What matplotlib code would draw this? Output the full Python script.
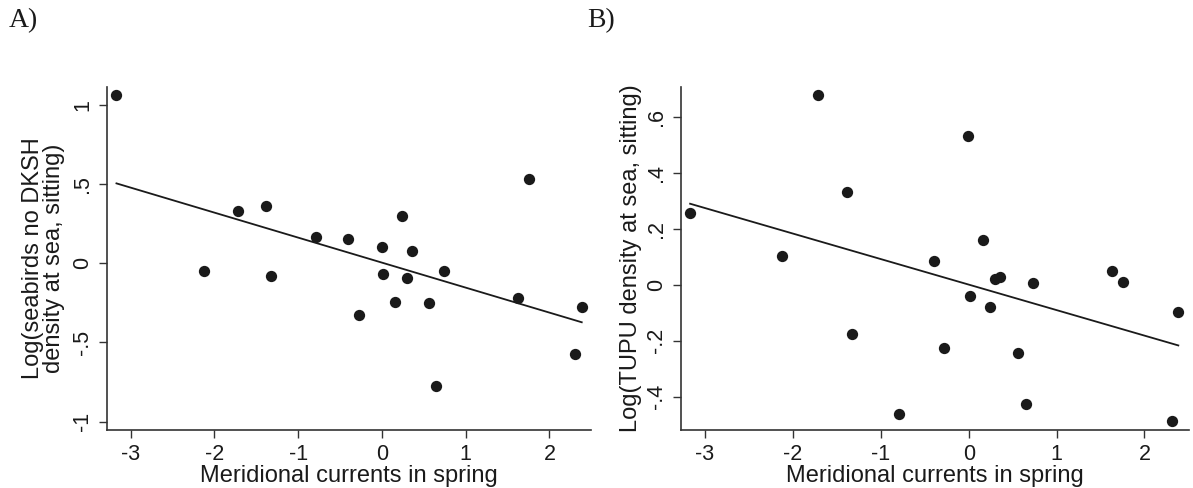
import numpy as np
import matplotlib
matplotlib.use("Agg")
import matplotlib.pyplot as plt

# meridional currents in spring (shared predictor)
currents = [-3.17, -2.12, -1.72, -1.38, -1.33, -0.79, -0.40, -0.28, -0.005, 0.01,
            0.16, 0.245, 0.295, 0.36, 0.563, 0.65, 0.735, 1.625, 1.755, 2.31, 2.385]

# A) log seabirds (no DKSH) density at sea, sitting
seabirds = [1.063, -0.048, 0.331, 0.362, -0.078, 0.168, 0.152, -0.326, 0.105, -0.065,
            -0.242, 0.299, -0.093, 0.078, -0.248, -0.773, -0.046, -0.219, 0.535, -0.571, -0.278]

# B) log TUPU density at sea, sitting
tupu = [0.259, 0.103, 0.679, 0.333, -0.175, -0.462, 0.085, -0.224, 0.533, -0.039,
        0.161, -0.078, 0.020, 0.030, -0.242, -0.425, 0.006, 0.051, 0.010, -0.487, -0.098]

xticks = [-3, -2, -1, 0, 1, 2]
yticks_a = [-1, -0.5, 0, 0.5, 1]
ylabels_a = ["-1", "-.5", "0", ".5", "1"]
yticks_b = [-0.4, -0.2, 0, 0.2, 0.4, 0.6]
ylabels_b = ["-.4", "-.2", "0", ".2", ".4", ".6"]

plt.rcParams['font.family'] = ['Liberation Sans', 'DejaVu Sans']
ink = "#1a1a1a"
grey = "#333333"

fig = plt.figure(figsize=(11.93, 4.88), dpi=100)
ax_a = fig.add_axes([0.0899, 0.1189, 0.4058, 0.7035])
ax_b = fig.add_axes([0.5711, 0.1189, 0.4258, 0.7035])


def panel(ax, x, y, yticks, ylabels, ylabel, xlim, ylim, ylab_pad):
    x = np.array(x)
    y = np.array(y)
    ax.scatter(x, y, s=66, color=ink, zorder=3, linewidths=0)
    # linear fit, drawn over the observed range
    b, a = np.polyfit(x, y, 1)
    xs = np.array([x.min(), x.max()])
    ax.plot(xs, a + b * xs, color=ink, lw=1.3, zorder=2)
    ax.set_xlim(*xlim)
    ax.set_ylim(*ylim)
    ax.set_xticks(xticks)
    ax.set_xticklabels([str(t) for t in xticks])
    ax.set_yticks(yticks)
    ax.set_yticklabels(ylabels, rotation=90, va="center")
    for s in ["top", "right"]:
        ax.spines[s].set_visible(False)
    for s in ["left", "bottom"]:
        ax.spines[s].set_color(grey)
        ax.spines[s].set_linewidth(1.2)
    ax.tick_params(direction="out", length=6, width=1, color=grey,
                   labelsize=15.5, labelcolor=ink, pad=4)
    ax.set_xlabel("Meridional currents in spring", fontsize=17, color=ink, labelpad=0)
    ax.set_ylabel(ylabel, fontsize=17, color=ink, labelpad=ylab_pad, linespacing=0.95)


panel(ax_a, currents, seabirds, yticks_a, ylabels_a,
      "Log(seabirds no DKSH\ndensity at sea, sitting)", (-3.28, 2.50), (-1.053, 1.116), 5)
panel(ax_b, currents, tupu, yticks_b, ylabels_b,
      "Log(TUPU density at sea, sitting)", (-3.27, 2.51), (-0.519, 0.71), 3)

fig.text(9 / 1193, 1 - 8 / 488, "A)", family=['Liberation Serif', 'DejaVu Serif'],
         fontsize=20, color=ink, va="top", ha="left")
fig.text(587 / 1193, 1 - 8 / 488, "B)", family=['Liberation Serif', 'DejaVu Serif'],
         fontsize=20, color=ink, va="top", ha="left")

fig.savefig("out.png", dpi=100)
